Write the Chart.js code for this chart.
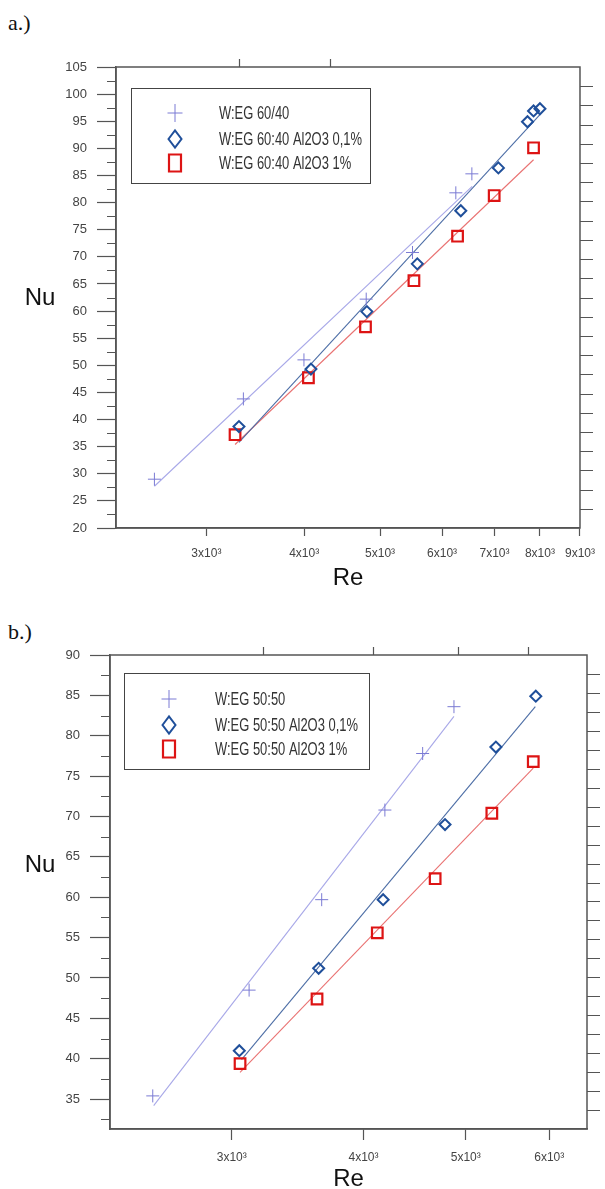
<!DOCTYPE html>
<html>
<head>
<meta charset="utf-8">
<script src="https://cdn.jsdelivr.net/npm/chart.js@4.4.0/dist/chart.umd.min.js"></script>
<style>
  body { margin: 0; background: #fff; }
  #page { position: relative; width: 605px; height: 1189px; overflow: hidden; background: #fff; }
  .panel { position: absolute; left: 0; width: 605px; }
  .tag { position: absolute; left: 8px; font-family: "Liberation Serif", "Times New Roman", serif; font-size: 22px; line-height: 22px; color: #111; }
</style>
</head>
<body>
<div id="page">
  <div class="tag" style="top:12px">a.)</div>
  <div class="panel" style="top:0"><canvas id="chartA" width="605" height="600"></canvas></div>
  <div class="tag" style="top:621px">b.)</div>
  <div class="panel" style="top:600px"><canvas id="chartB" width="605" height="589"></canvas></div>
</div>
<script>
// ---- panel a: W:EG 60/40 ----
const reTicksA = [3000, 4000, 5000, 6000, 7000, 8000, 9000];
const labelsA = ['W:EG 60/40', 'W:EG 60:40 Al2O3 0,1%', 'W:EG 60:40 Al2O3 1%'];
const reA_base = [2575, 3345, 3997, 4800, 5500, 6247, 6549];
const nuA_base = [29.0, 43.8, 51.0, 62.2, 70.8, 81.8, 85.3];
const reA_01 = [3302, 4080, 4809, 5578, 6339, 7080, 7713, 7851, 8000];
const nuA_01 = [38.7, 49.3, 59.9, 68.7, 78.5, 86.4, 94.9, 96.9, 97.3];
const reA_1 = [3264, 4050, 4790, 5523, 6279, 6993, 7851];
const nuA_1 = [37.2, 47.7, 57.1, 65.6, 73.8, 81.3, 90.1];
// fitted lines (end points)
const fitA_base_re = [2575, 6555], fitA_base_nu = [27.7, 83.0];
const fitA_01_re = [3302, 8000], fitA_01_nu = [35.8, 96.2];
const fitA_1_re = [3264, 7851], fitA_1_nu = [35.4, 87.9];

// ---- panel b: W:EG 50:50 ----
const reTicksB = [3000, 4000, 5000, 6000];
const labelsB = ['W:EG 50:50', 'W:EG 50:50 Al2O3 0,1%', 'W:EG 50:50 Al2O3 1%'];
const reB_base = [2525, 3116, 3651, 4191, 4551, 4873];
const nuB_base = [35.4, 48.5, 59.7, 70.8, 77.8, 83.6];
const reB_01 = [3050, 3627, 4175, 4779, 5340, 5826];
const nuB_01 = [41.0, 51.2, 59.7, 69.0, 78.6, 84.9];
const reB_1 = [3055, 3614, 4122, 4677, 5293, 5794];
const nuB_1 = [39.4, 47.4, 55.6, 62.3, 70.4, 76.8];
const fitB_base_re = [2530, 4873], fitB_base_nu = [34.2, 82.4];
const fitB_01_re = [3065, 5820], fitB_01_nu = [39.9, 83.6];
const fitB_1_re = [3055, 5794], fitB_1_nu = [38.3, 76.0];

const colBase = '#7b7bd4', colMid = '#1f4f9a', colHigh = '#dd1414';
const fitBase = '#a8a8e8', fitMid = '#4d6ea6', fitHigh = '#e97272';

Chart.defaults.font.family = '"Liberation Sans", Arial, sans-serif';
Chart.defaults.color = '#444';

const pts = (xs, ys) => xs.map((x, i) => ({ x: x, y: ys[i] }));

function pointSet(label, xs, ys, style, color, r, bw) {
  return {
    label: label, data: pts(xs, ys), showLine: false,
    pointStyle: style, pointRadius: r, pointHoverRadius: r,
    borderColor: color, backgroundColor: 'rgba(0,0,0,0)', pointBorderWidth: bw, borderWidth: bw
  };
}
function fitSet(xs, ys, color) {
  return {
    isFit: true, data: pts(xs, ys), showLine: true, pointRadius: 0,
    borderColor: color, borderWidth: 1.1, fill: false
  };
}

// frame, minor ticks, axis titles, legend box
const framePlugin = {
  id: 'frame',
  afterDraw(chart, args, o) {
    const { ctx, chartArea: ca, scales } = chart;
    const ys = scales.y, xs = scales.x;
    ctx.save();
    ctx.strokeStyle = '#555';
    ctx.lineWidth = 1.5;
    ctx.strokeRect(ca.left, ca.top, ca.right - ca.left, ca.bottom - ca.top);

    ctx.lineWidth = 1.2;
    ctx.beginPath();
    for (let v = Math.ceil(ys.min / 5) * 5 - 2.5; v < ys.max; v += 5) {
      if (v <= ys.min) continue;
      const y = Math.round(ys.getPixelForValue(v)) + 0.5;
      ctx.moveTo(ca.left - 9, y); ctx.lineTo(ca.left, y);
    }
    const h = (ca.bottom - ca.top) / o.rightTicks;
    for (let k = 1; k < o.rightTicks; k++) {
      const y = Math.round(ca.bottom - k * h) + 0.5;
      ctx.moveTo(ca.right, y); ctx.lineTo(ca.right + 13, y);
    }
    o.topTicks.forEach(v => {
      const x = Math.round(xs.getPixelForValue(v)) + 0.5;
      ctx.moveTo(x, ca.top - 8); ctx.lineTo(x, ca.top);
    });
    ctx.stroke();

    ctx.fillStyle = '#111';
    ctx.font = '24px "Liberation Sans", Arial, sans-serif';
    ctx.textAlign = 'center';
    ctx.textBaseline = 'middle';
    ctx.fillText('Re', (ca.left + ca.right) / 2, ca.bottom + 50);
    ctx.fillText('Nu', 40, o.nuY);

    const L = o.legend;
    ctx.lineWidth = 1;
    ctx.strokeStyle = '#444';
    ctx.strokeRect(L.x + 0.5, L.y + 0.5, L.w, L.h);
    const sets = chart.data.datasets.filter(d => !d.isFit);
    sets.forEach((d, i) => {
      const cy = L.rows[i], cx = L.markX;
      ctx.strokeStyle = d.borderColor;
      ctx.beginPath();
      if (d.pointStyle === 'cross') {
        ctx.lineWidth = 1;
        ctx.moveTo(cx - 7.5, cy); ctx.lineTo(cx + 7.5, cy);
        ctx.moveTo(cx, cy - 9); ctx.lineTo(cx, cy + 9);
      } else if (d.pointStyle === 'rectRot') {
        ctx.lineWidth = 2;
        ctx.moveTo(cx - 6.5, cy); ctx.lineTo(cx, cy - 8.5);
        ctx.lineTo(cx + 6.5, cy); ctx.lineTo(cx, cy + 8.5); ctx.closePath();
      } else {
        ctx.lineWidth = 2.2;
        ctx.rect(cx - 6, cy - 8.5, 12, 17);
      }
      ctx.stroke();
      ctx.save();
      ctx.fillStyle = '#333';
      ctx.font = '17.5px "Liberation Sans", Arial, sans-serif';
      ctx.textAlign = 'left';
      ctx.textBaseline = 'alphabetic';
      ctx.translate(L.textX, cy + 6.3);
      ctx.scale(0.74, 1);
      ctx.fillText(d.label, 0, 0);
      ctx.restore();
    });
    ctx.restore();
  }
};

function makeChart(id, cfg) {
  return new Chart(document.getElementById(id), {
    type: 'scatter',
    data: { datasets: cfg.datasets },
    options: {
      responsive: false,
      animation: false,
      devicePixelRatio: 1,
      layout: { padding: { top: cfg.top, right: 18, left: 0, bottom: 0 } },
      plugins: { legend: { display: false }, tooltip: { enabled: false }, frame: cfg.frame },
      scales: {
        x: {
          type: 'logarithmic', min: cfg.xMin, max: cfg.xMax,
          afterBuildTicks: s => { s.ticks = cfg.xTicks.map(v => ({ value: v })); },
          afterFit: s => { s.height = cfg.xHeight; },
          ticks: {
            autoSkip: false, maxRotation: 0, padding: 10,
            font: { size: 12 }, color: '#444',
            callback: v => (v / 1000) + 'x10\u00B3'
          },
          grid: { drawOnChartArea: false, tickLength: cfg.xTickLen, tickColor: '#555', tickWidth: 1.2 },
          border: { color: '#555', width: 1.5 }
        },
        y: {
          min: cfg.yMin, max: cfg.yMax,
          afterBuildTicks: s => {
            const t = [];
            for (let v = Math.ceil(cfg.yMin / 5) * 5; v <= cfg.yMax; v += 5) t.push({ value: v });
            s.ticks = t;
          },
          afterFit: s => { s.width = cfg.yWidth; },
          ticks: { padding: 10, font: { size: 13 }, color: '#444' },
          grid: { drawOnChartArea: false, tickLength: cfg.yTickLen, tickColor: '#555', tickWidth: 1.2 },
          border: { color: '#555', width: 1.5 }
        }
      }
    },
    plugins: [framePlugin]
  });
}

makeChart('chartA', {
  top: 67, xMin: 2300, xMax: 9000, yMin: 20, yMax: 105,
  xTicks: reTicksA, xHeight: 72, yWidth: 116, xTickLen: 8, yTickLen: 19,
  datasets: [
    pointSet(labelsA[0], reA_base, nuA_base, 'cross', colBase, 6.5, 1),
    pointSet(labelsA[1], reA_01, nuA_01, 'rectRot', colMid, 5.5, 2),
    pointSet(labelsA[2], reA_1, nuA_1, 'rect', colHigh, 7.5, 2.2),
    fitSet(fitA_base_re, fitA_base_nu, fitBase),
    fitSet(fitA_01_re, fitA_01_nu, fitMid),
    fitSet(fitA_1_re, fitA_1_nu, fitHigh)
  ],
  frame: {
    rightTicks: 24, topTicks: [3307, 4320], nuY: 298,
    legend: { x: 131, y: 88, w: 239, h: 95, markX: 175, textX: 219, rows: [113, 139, 163] }
  }
});

makeChart('chartB', {
  top: 55, xMin: 2300, xMax: 6515, yMin: 31.3, yMax: 90,
  xTicks: reTicksB, xHeight: 60, yWidth: 110, xTickLen: 11, yTickLen: 20,
  datasets: [
    pointSet(labelsB[0], reB_base, nuB_base, 'cross', colBase, 6.5, 1),
    pointSet(labelsB[1], reB_01, nuB_01, 'rectRot', colMid, 5.5, 2),
    pointSet(labelsB[2], reB_1, nuB_1, 'rect', colHigh, 7.5, 2.2),
    fitSet(fitB_base_re, fitB_base_nu, fitBase),
    fitSet(fitB_01_re, fitB_01_nu, fitMid),
    fitSet(fitB_1_re, fitB_1_nu, fitHigh)
  ],
  frame: {
    rightTicks: 25, topTicks: [3212, 4083, 4917, 5727], nuY: 265,
    legend: { x: 124, y: 73, w: 245, h: 96, markX: 169, textX: 215, rows: [99, 125, 149] }
  }
});
</script>
</body>
</html>
